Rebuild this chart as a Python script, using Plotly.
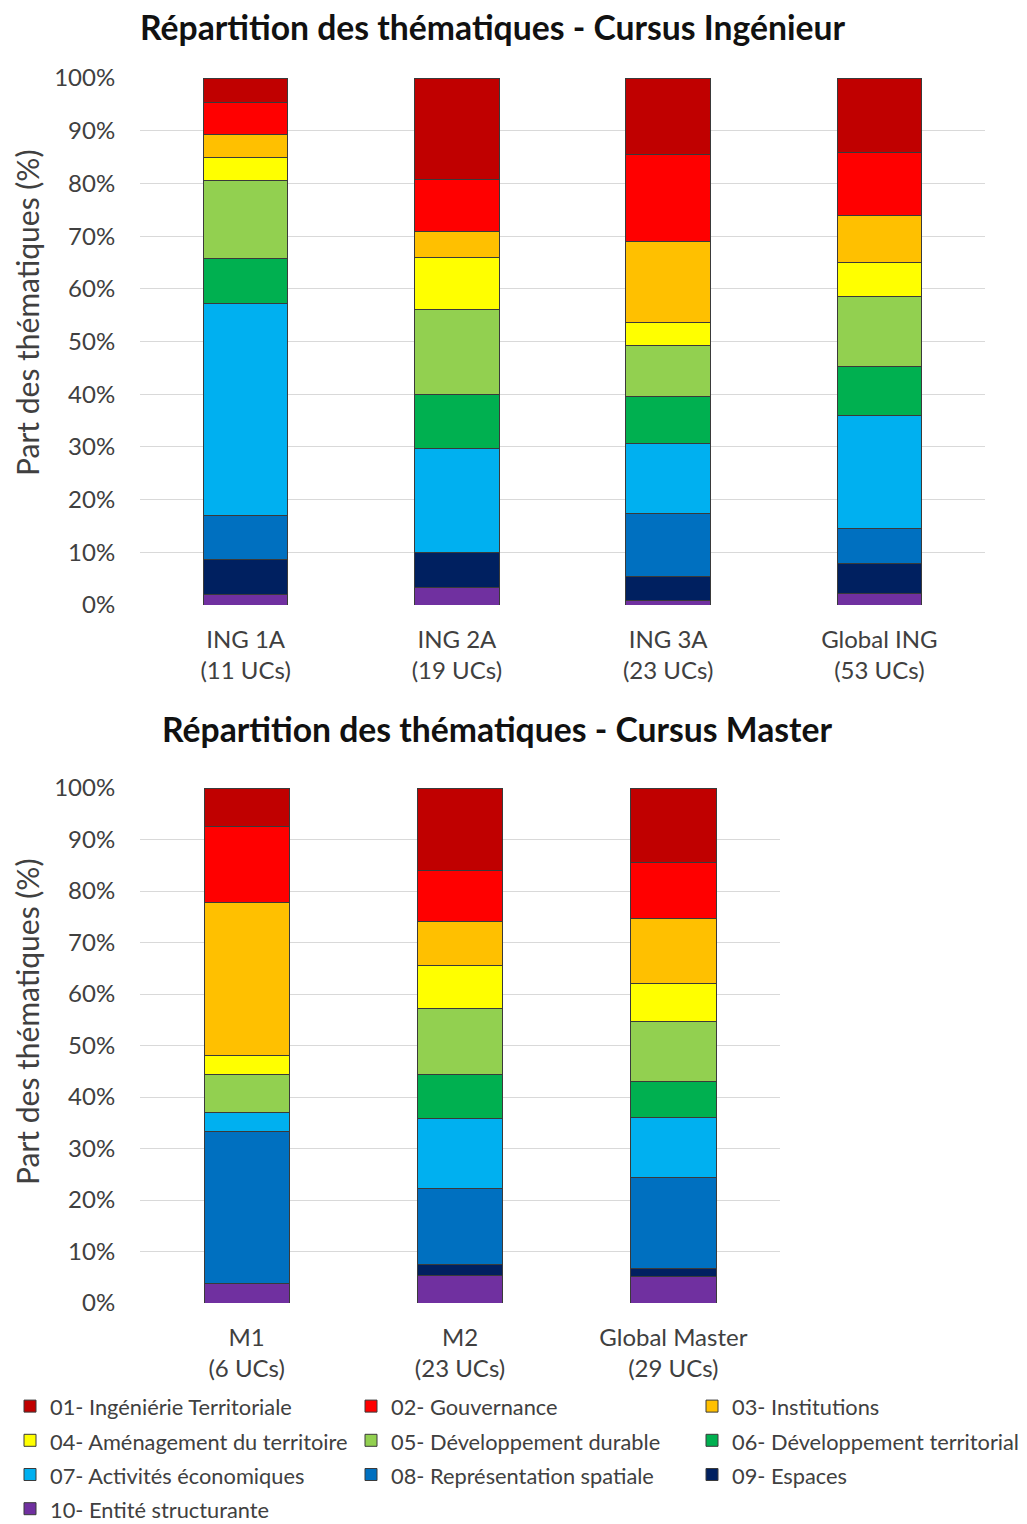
import plotly.graph_objects as go

themes = ["01- Ingéniérie Territoriale", "02- Gouvernance", "03- Institutions",
          "04- Aménagement du territoire", "05- Développement durable", "06- Développement territorial",
          "07- Activités économiques", "08- Représentation spatiale", "09- Espaces",
          "10- Entité structurante"]
colors = ["#C00000", "#FF0000", "#FFC000", "#FFFF00", "#92D050", "#00B050",
          "#00B0F0", "#0070C0", "#002060", "#7030A0"]

ing_categories = ["ING 1A<br>(11 UCs)", "ING 2A<br>(19 UCs)", "ING 3A<br>(23 UCs)", "Global ING<br>(53 UCs)"]
master_categories = ["M1<br>(6 UCs)", "M2<br>(23 UCs)", "Global Master<br>(29 UCs)"]

# shares (%) per theme 01..10, per category
ing_values = {
    "01": [4.7, 19.2, 14.5, 14.2],
    "02": [6.1, 9.9, 16.6, 11.8],
    "03": [4.3, 4.9, 15.2, 9.0],
    "04": [4.4, 9.9, 4.5, 6.4],
    "05": [14.7, 16.2, 9.6, 13.3],
    "06": [8.6, 10.2, 9.0, 9.4],
    "07": [40.3, 19.7, 13.2, 21.3],
    "08": [8.2, 0.0, 11.9, 6.7],
    "09": [6.7, 6.7, 4.6, 5.7],
    "10": [2.0, 3.3, 0.9, 2.2],
}
master_values = {
    "01": [7.4, 16.1, 14.4],
    "02": [14.8, 9.9, 10.9],
    "03": [29.6, 8.4, 12.6],
    "04": [3.7, 8.4, 7.5],
    "05": [7.4, 12.9, 11.6],
    "06": [0.0, 8.5, 6.9],
    "07": [3.7, 13.6, 11.7],
    "08": [29.6, 14.8, 17.7],
    "09": [0.0, 2.1, 1.6],
    "10": [3.7, 5.3, 5.1],
}
y_ticks = [0, 10, 20, 30, 40, 50, 60, 70, 80, 90, 100]
y_ticktext = [f"{v}%" for v in y_ticks]
y_title = "Part des thématiques (%)"
title_ing = "Répartition des thématiques - Cursus Ingénieur"
title_master = "Répartition des thématiques - Cursus Master"

FONT = "Lato"
fig = go.Figure()
keys = list(ing_values.keys())
# add bottom-first (10 first) so 10 is at the bottom of the stack
for i in reversed(range(10)):
    k = keys[i]
    label = f'<span style="font-size:21.8px">{themes[i]}</span>'
    fig.add_trace(go.Bar(x=ing_categories, y=ing_values[k], name=label,
                         marker=dict(color=colors[i], line=dict(color="#3a3a3a", width=1)),
                         legendrank=i + 1, showlegend=True, legendgroup=k,
                         xaxis="x", yaxis="y"))
    fig.add_trace(go.Bar(x=master_categories, y=master_values[k], name=label,
                         marker=dict(color=colors[i], line=dict(color="#3a3a3a", width=1)),
                         legendrank=i + 1, showlegend=False, legendgroup=k,
                         xaxis="x2", yaxis="y2"))

# page body has an 8px margin: work in screen pixels and convert
OFF = 8
W, H = 1019, 1516
L, R, T, B = 140 - OFF, 0, 78 - OFF, H - (1303 - OFF)
pw, ph = W - L - R, H - T - B

def py(ypix):
    return (H - B - (ypix - OFF)) / ph

def px(xpix):
    return ((xpix - OFF) - L) / pw

axis_y = dict(range=[0, 100], tickvals=y_ticks, ticktext=y_ticktext,
              showgrid=True, gridcolor="#D9D9D9", gridwidth=1, zeroline=False,
              showline=False, tickfont=dict(family=FONT, size=24, color="#404040"),
              ticks="outside", ticklen=19, tickcolor="rgba(0,0,0,0)")
axis_x = dict(showgrid=False, zeroline=False, showline=False,
              tickfont=dict(family=FONT, size=24, color="#404040"),
              ticks="outside", ticklen=13, tickcolor="rgba(0,0,0,0)")

def ytitle(yc):
    return dict(text=y_title, xref="paper", yref="paper", x=px(27), y=py(yc),
                xanchor="center", yanchor="middle", textangle=-90, showarrow=False,
                font=dict(family=FONT, size=30, color="#404040"))

fig.update_layout(
    width=W, height=H,
    barmode="stack", bargap=0.6,
    plot_bgcolor="white", paper_bgcolor="white",
    margin=dict(l=L, r=R, t=T, b=B, autoexpand=False),
    xaxis=dict(domain=[0, px(985)], anchor="y", **axis_x),
    yaxis=dict(domain=[py(605), 1], anchor="x", **axis_y),
    xaxis2=dict(domain=[0, px(780)], anchor="y2", **axis_x),
    yaxis2=dict(domain=[0, py(788)], anchor="x2", **axis_y),
    legend=dict(orientation="h", x=px(10), xanchor="left", y=py(1384), yanchor="top",
                entrywidth=296, entrywidthmode="pixels",
                font=dict(family=FONT, size=24, color="#404040"),
                itemwidth=30, traceorder="normal"),
    annotations=[
        dict(text=f"<b>{title_ing}</b>", xref="paper", yref="paper",
             x=px(493), y=py(27), xanchor="center", yanchor="middle", showarrow=False,
             font=dict(family=FONT, size=33.7, color="#111111")),
        dict(text=f"<b>{title_master}</b>", xref="paper", yref="paper",
             x=px(497), y=py(729), xanchor="center", yanchor="middle", showarrow=False,
             font=dict(family=FONT, size=33.7, color="#111111")),
        ytitle(313),
        ytitle(1022),
    ],
)

fig.write_html("out.html")
